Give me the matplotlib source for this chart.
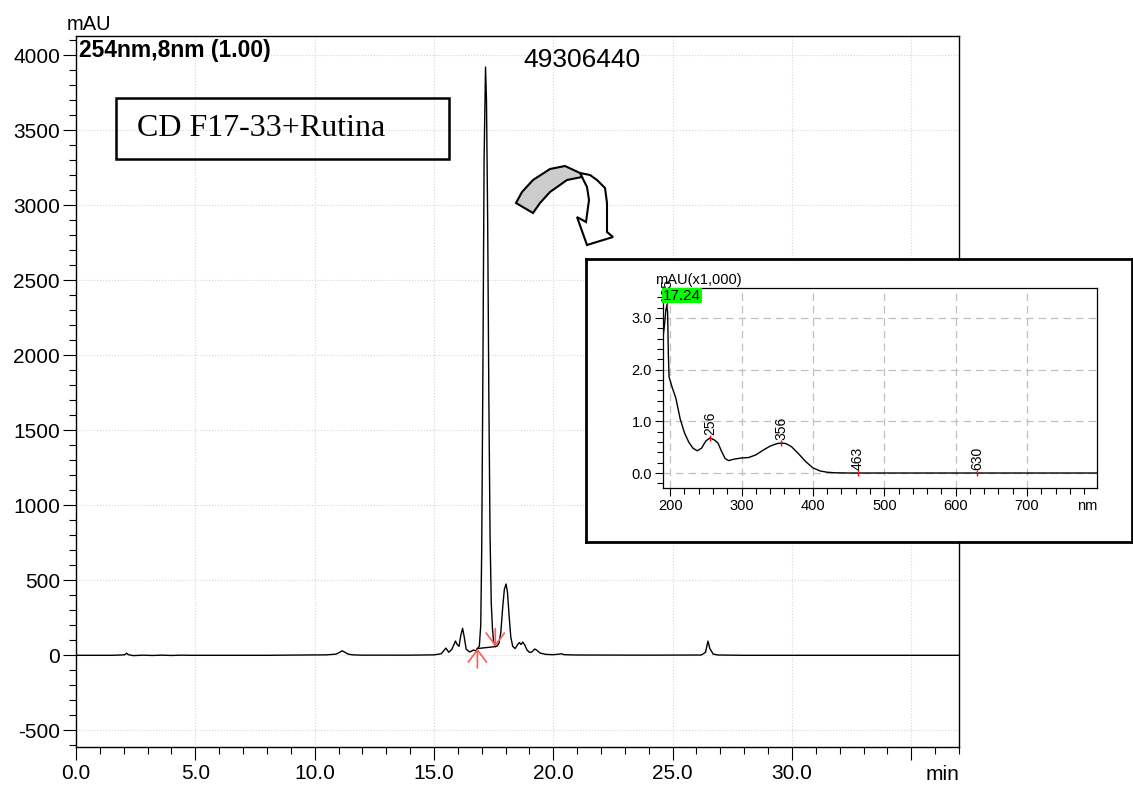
import numpy as np
import matplotlib.pyplot as plt
from matplotlib.patches import Polygon, Rectangle
from matplotlib.ticker import MultipleLocator

plt.rcParams['font.family'] = ['Liberation Sans', 'DejaVu Sans']
plt.rcParams['axes.unicode_minus'] = False

# Chromatogram at 254 nm (time in min, signal in mAU)
time_min = [0.0, 1.5, 1.9, 2.05, 2.12, 2.2, 2.4, 2.8, 3.2, 3.6, 4.0, 4.4, 4.8, 8.0, 9.5,
            10.5, 10.9, 11.05, 11.15, 11.25, 11.4, 11.6, 12.0, 14.0, 15.0, 15.3, 15.5,
            15.62, 15.75, 15.9, 15.98, 16.05, 16.12, 16.2, 16.27, 16.35, 16.5, 16.65,
            16.75, 16.82, 16.9, 16.96, 17.0, 17.05, 17.1, 17.16, 17.2, 17.25, 17.3, 17.35,
            17.4, 17.45, 17.5, 17.57, 17.65, 17.72, 17.8, 17.88, 17.95, 18.02, 18.08,
            18.15, 18.22, 18.3, 18.4, 18.5, 18.58, 18.65, 18.72, 18.8, 18.9, 19.0, 19.1,
            19.22, 19.3, 19.45, 19.7, 20.0, 20.25, 20.35, 20.45, 21.0, 24.0, 26.2, 26.38,
            26.48, 26.56, 26.7, 26.9, 28.0, 37.0]
signal_mau = [0, 0, 2, 4, 14, 4, -2, 1, -1, 1, -1, 1, 0, 0, 2,
              3, 8, 20, 30, 22, 8, 3, 1, 1, 3, 10, 48,
              20, 40, 95, 70, 60, 130, 180, 120, 40, 22, 35,
              30, 45, 60, 200, 700, 1900, 3300, 3920, 3700, 2900, 1700, 800,
              350, 180, 90, 58, 62, 80, 150, 320, 440, 475, 420,
              260, 120, 60, 45, 70, 85, 72, 88, 70, 35, 20, 22,
              42, 35, 15, 6, 4, 8, 10, 4, 2, 1, 2, 20,
              95, 45, 8, 2, 0, 0]

# integration of the main peak
peak_start = (16.82, 45)
peak_end = (17.57, 58)
peak_area = "49306440"
sample_name = "CD F17-33+Rutina"

# UV spectrum of the main peak (mAU x1000)
wl_nm = [190, 192, 194, 195.5, 196.5, 197.5, 198.5, 203, 208, 214, 220, 226, 232, 238,
         244, 250, 256, 262, 267, 272, 277, 282, 290, 300, 310, 320, 330, 340, 350,
         356, 362, 370, 380, 390, 400, 410, 420, 430, 450, 500, 600, 700, 798]
absorb = [2.62, 2.85, 3.15, 3.26, 3.1, 2.3, 1.86, 1.65, 1.45, 1.05, 0.78, 0.6, 0.48, 0.43,
          0.48, 0.62, 0.68, 0.64, 0.58, 0.42, 0.28, 0.24, 0.27, 0.29, 0.30, 0.35, 0.44,
          0.52, 0.57, 0.58, 0.57, 0.51, 0.37, 0.22, 0.10, 0.04, 0.015, 0.005, 0.0, 0.0,
          0.0, 0.0, 0.0]
spec_peaks_nm = [195, 256, 356, 463, 630]
spec_peaks_abs = [3.26, 0.68, 0.58, 0.0, 0.0]
spec_time = "17.24"

W, H = 1133, 790
fig = plt.figure(figsize=(W / 100, H / 100), dpi=100)


def px_rect(l, t, r, b):
    return [l / W, 1 - b / H, (r - l) / W, (b - t) / H]


def px(x, y):
    return (x / W, 1 - y / H)


# main chromatogram
ax = fig.add_axes(px_rect(76, 36, 959, 747))
ax.plot(time_min, signal_mau, color='black', lw=1)
ax.plot([peak_start[0], peak_end[0]], [peak_start[1], peak_end[1]], color='black', lw=1)
red = '#ff5a5a'
head = '->,head_length=0.4,head_width=0.3'
ax.annotate('', xy=peak_start, xytext=(peak_start[0], peak_start[1] - 130),
            arrowprops=dict(arrowstyle=head, color=red, lw=1.2, mutation_scale=22,
                            shrinkA=0, shrinkB=0))
ax.annotate('', xy=peak_end, xytext=(peak_end[0], peak_end[1] + 120),
            arrowprops=dict(arrowstyle=head, color=red, lw=1.2, mutation_scale=22,
                            shrinkA=0, shrinkB=0))

ax.set_xlim(0, 37)
ax.set_ylim(-611, 4127)
ax.set_xticks(np.arange(0, 36, 5))
ax.set_xticklabels(['0.0', '5.0', '10.0', '15.0', '20.0', '25.0', '30.0', ''])
ax.xaxis.set_minor_locator(MultipleLocator(1))
ax.yaxis.set_major_locator(MultipleLocator(500))
ax.yaxis.set_minor_locator(MultipleLocator(100))
ax.grid(which='major', color='#d6d6d6', ls=':', lw=0.8)
ax.tick_params(which='major', length=9.5, width=0.8, labelsize=15, pad=2)
ax.tick_params(axis='x', which='major', pad=3)
ax.tick_params(which='minor', length=5, width=0.8)
for s in ax.spines.values():
    s.set_linewidth(1)
ax.text(1.0, -18 / 711, 'min', transform=ax.transAxes, ha='right', va='top', size=15)
ax.text(0.003, 0.996, '254nm,8nm (1.00)', transform=ax.transAxes, ha='left', va='top',
        size=16.5, weight='bold')
fig.text(*px(89, 25), 'mAU', ha='center', va='center', size=14.5)

# sample label and area
fig.patches.append(Rectangle(px(116, 159), 333 / W, 61 / H, transform=fig.transFigure,
                             fill=False, ec='black', lw=1.8, zorder=2))
fig.text(*px(137, 129), sample_name, ha='left', va='center', size=23,
         family='Liberation Serif')
fig.text(*px(582, 60), peak_area, ha='center', va='center', size=19)

# curved arrow pointing to the spectrum
grey_pts = [(516, 203), (522, 192), (533, 180), (550, 169), (565, 166), (580, 173),
            (582, 177), (567, 180), (550, 192), (540, 203), (533, 213)]
white_pts = [(580, 173), (590, 175), (597, 180), (605, 188), (607, 203), (607, 232),
             (613, 237), (587, 245), (577, 217), (586, 222), (589, 200), (587, 187),
             (582, 177)]
fig.patches.append(Polygon([px(x, y) for x, y in white_pts], closed=True,
                           transform=fig.transFigure, fc='white', ec='black', lw=1.5, zorder=2))
fig.patches.append(Polygon([px(x, y) for x, y in grey_pts], closed=True,
                           transform=fig.transFigure, fc='#cccccc', ec='black', lw=1.5, zorder=2))

# inset frame
frame = fig.add_axes(px_rect(586, 259, 1132, 542))
frame.set_xticks([])
frame.set_yticks([])
for s in frame.spines.values():
    s.set_linewidth(2)
frame.set_zorder(3)

# spectrum
iax = fig.add_axes(px_rect(663, 288, 1097, 488))
iax.set_zorder(4)
iax.plot(wl_nm, absorb, color='black', lw=1)
iax.plot(spec_peaks_nm, spec_peaks_abs, ls='none', marker='|', ms=5, mew=1, color='red')
for nm, a in zip(spec_peaks_nm, spec_peaks_abs):
    iax.annotate(str(nm), (nm, a), xytext=(0, 2), textcoords='offset points', rotation=90,
                 ha='center', va='bottom', size=10, annotation_clip=False)
iax.set_xlim(190, 798)
iax.set_ylim(-0.29, 3.58)
iax.set_xticks([200, 300, 400, 500, 600, 700])
iax.set_yticks([0, 1, 2, 3])
iax.set_yticklabels(['0.0', '1.0', '2.0', '3.0'])
iax.xaxis.set_minor_locator(MultipleLocator(20))
iax.yaxis.set_minor_locator(MultipleLocator(0.2))
iax.grid(which='major', color='#c0c0c0', ls=(0, (6, 4)), lw=0.9)
iax.tick_params(which='major', length=6, width=0.8, labelsize=10.5, pad=2)
iax.tick_params(which='minor', length=4, width=0.8)
for s in iax.spines.values():
    s.set_linewidth(0.9)
iax.text(1.0, -11 / 200, 'nm', transform=iax.transAxes, ha='right', va='top', size=10.5)
iax.text(-0.018, 1.005, 'mAU(x1,000)', transform=iax.transAxes, ha='left', va='bottom',
         size=10.5)
iax.text(0.0, 0.997, spec_time, transform=iax.transAxes, ha='left', va='top', size=11,
         bbox=dict(fc='#00ff00', ec='none', pad=0.5))

plt.savefig('out.png', dpi=100)
